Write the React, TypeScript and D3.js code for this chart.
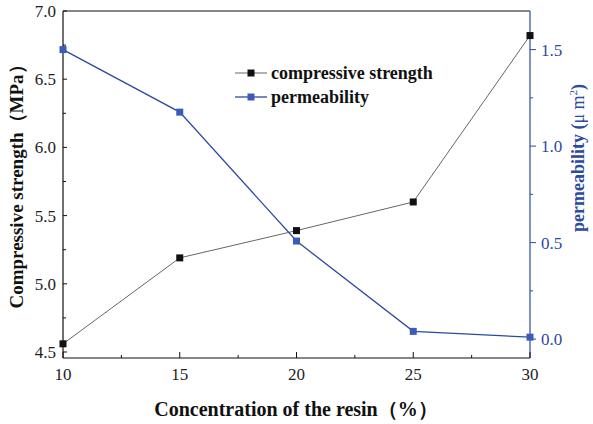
import * as d3 from 'd3';

const concentration = [10, 15, 20, 25, 30];
const strength = [4.56, 5.19, 5.39, 5.6, 6.82];
const permeability = [1.5, 1.176, 0.508, 0.04, 0.01];

const xTicks = [10, 15, 20, 25, 30];
const leftTicks = [4.5, 5.0, 5.5, 6.0, 6.5, 7.0];
const rightTicks = [0.0, 0.5, 1.0, 1.5];

const W = 593;
const H = 424;
const m = { left: 63, right: 530, top: 11, bottom: 358 };

const BLUE = '#2c4a9e';
const BLUE_MARK = '#3b5bb8';
const serif = { fontFamily: 'Liberation Serif' };

export default function App() {
  const x = d3.scaleLinear().domain([10, 30]).range([m.left, m.right]);
  const yL = d3.scaleLinear().domain([4.456, 7.0]).range([m.bottom, m.top]);
  const yR = d3.scaleLinear().domain([-0.098, 1.7]).range([m.bottom, m.top]);

  const pts = (ys: number[]) => concentration.map((c, i) => [c, ys[i]] as [number, number]);
  const lineL = d3.line<[number, number]>().x(d => x(d[0])).y(d => yL(d[1]));
  const lineR = d3.line<[number, number]>().x(d => x(d[0])).y(d => yR(d[1]));

  const xMinor = d3.range(12.5, 30, 5);
  const leftMinor = d3.range(4.75, 7, 0.5);
  const rightMinor = d3.range(0.25, 1.7, 0.5);

  const sq = 7;

  return (
    <svg width={W} height={H} style={{ position: 'absolute', left: 0, top: 0, background: '#fff' }}>
      {/* frame */}
      <line x1={m.left} x2={m.right} y1={m.top} y2={m.top} stroke="#111" strokeWidth={1.2} />
      <line x1={m.left} x2={m.right} y1={m.bottom} y2={m.bottom} stroke="#111" strokeWidth={1.2} />
      <line x1={m.left} x2={m.left} y1={m.top} y2={m.bottom} stroke="#111" strokeWidth={1.2} />
      <line x1={m.right} x2={m.right} y1={m.top} y2={m.bottom} stroke={BLUE} strokeWidth={1.2} />

      {/* bottom ticks */}
      {xTicks.map(t => (
        <g key={'x' + t}>
          <line x1={x(t)} x2={x(t)} y1={m.bottom} y2={m.bottom - 6} stroke="#111" />
          <text style={serif} x={x(t)} y={m.bottom + 22} textAnchor="middle" fontSize={17} fill="#222">{t}</text>
        </g>
      ))}
      {xMinor.map(t => (
        <line key={'xm' + t} x1={x(t)} x2={x(t)} y1={m.bottom} y2={m.bottom - 3} stroke="#111" />
      ))}

      {/* left ticks */}
      {leftTicks.map(t => (
        <g key={'l' + t}>
          <line x1={m.left} x2={m.left + 4} y1={yL(t)} y2={yL(t)} stroke="#111" />
          <text style={serif} x={m.left - 7} y={yL(t) + 6} textAnchor="end" fontSize={17} fill="#222">{t.toFixed(1)}</text>
        </g>
      ))}
      {leftMinor.map(t => (
        <line key={'lm' + t} x1={m.left} x2={m.left + 3} y1={yL(t)} y2={yL(t)} stroke="#111" />
      ))}

      {/* right ticks */}
      {rightTicks.map(t => (
        <g key={'r' + t}>
          <line x1={m.right} x2={m.right + 6} y1={yR(t)} y2={yR(t)} stroke={BLUE} />
          <text style={serif} x={m.right + 11} y={yR(t) + 6} textAnchor="start" fontSize={17} fill={BLUE}>{t.toFixed(1)}</text>
        </g>
      ))}
      {rightMinor.map(t => (
        <line key={'rm' + t} x1={m.right} x2={m.right + 3} y1={yR(t)} y2={yR(t)} stroke={BLUE} />
      ))}

      {/* series */}
      <path d={lineL(pts(strength)) ?? ''} fill="none" stroke="#555" strokeWidth={0.9} />
      <path d={lineR(pts(permeability)) ?? ''} fill="none" stroke={BLUE} strokeWidth={1.3} />
      {pts(strength).map(d => (
        <rect key={'s' + d[0]} x={x(d[0]) - sq / 2} y={yL(d[1]) - sq / 2} width={sq} height={sq} fill="#111" />
      ))}
      {pts(permeability).map(d => (
        <rect key={'p' + d[0]} x={x(d[0]) - sq / 2} y={yR(d[1]) - sq / 2} width={sq} height={sq} fill={BLUE_MARK} />
      ))}

      {/* legend */}
      <g>
        <line x1={235} x2={267} y1={73} y2={73} stroke="#555" strokeWidth={0.9} />
        <rect x={251 - sq / 2} y={73 - sq / 2} width={sq} height={sq} fill="#111" />
        <text style={serif} x={271} y={79} fontSize={18} fontWeight="bold" fill="#111">compressive strength</text>
        <line x1={235} x2={267} y1={97} y2={97} stroke={BLUE} strokeWidth={1.3} />
        <rect x={251 - sq / 2} y={97 - sq / 2} width={sq} height={sq} fill={BLUE_MARK} />
        <text style={serif} x={271} y={103} fontSize={18} fontWeight="bold" fill="#111">permeability</text>
      </g>

      {/* axis titles */}
      <text style={serif} transform={`translate(23,182) rotate(-90)`} textAnchor="middle" fontSize={19} fontWeight="bold" fill="#111">
        Compressive strength（MPa）
      </text>
      <text style={serif} transform={`translate(584,158) rotate(-90)`} textAnchor="middle" fontSize={18} fontWeight="bold" fill={BLUE}>
        permeability (<tspan fontWeight="normal">μ m</tspan><tspan fontSize={11} fontWeight="normal" dy={-7}>2</tspan><tspan dy={7}>)</tspan>
      </text>
      <text style={serif} x={296} y={416} textAnchor="middle" fontSize={20} fontWeight="bold" fill="#111">
        Concentration of the resin（%）
      </text>
    </svg>
  );
}
